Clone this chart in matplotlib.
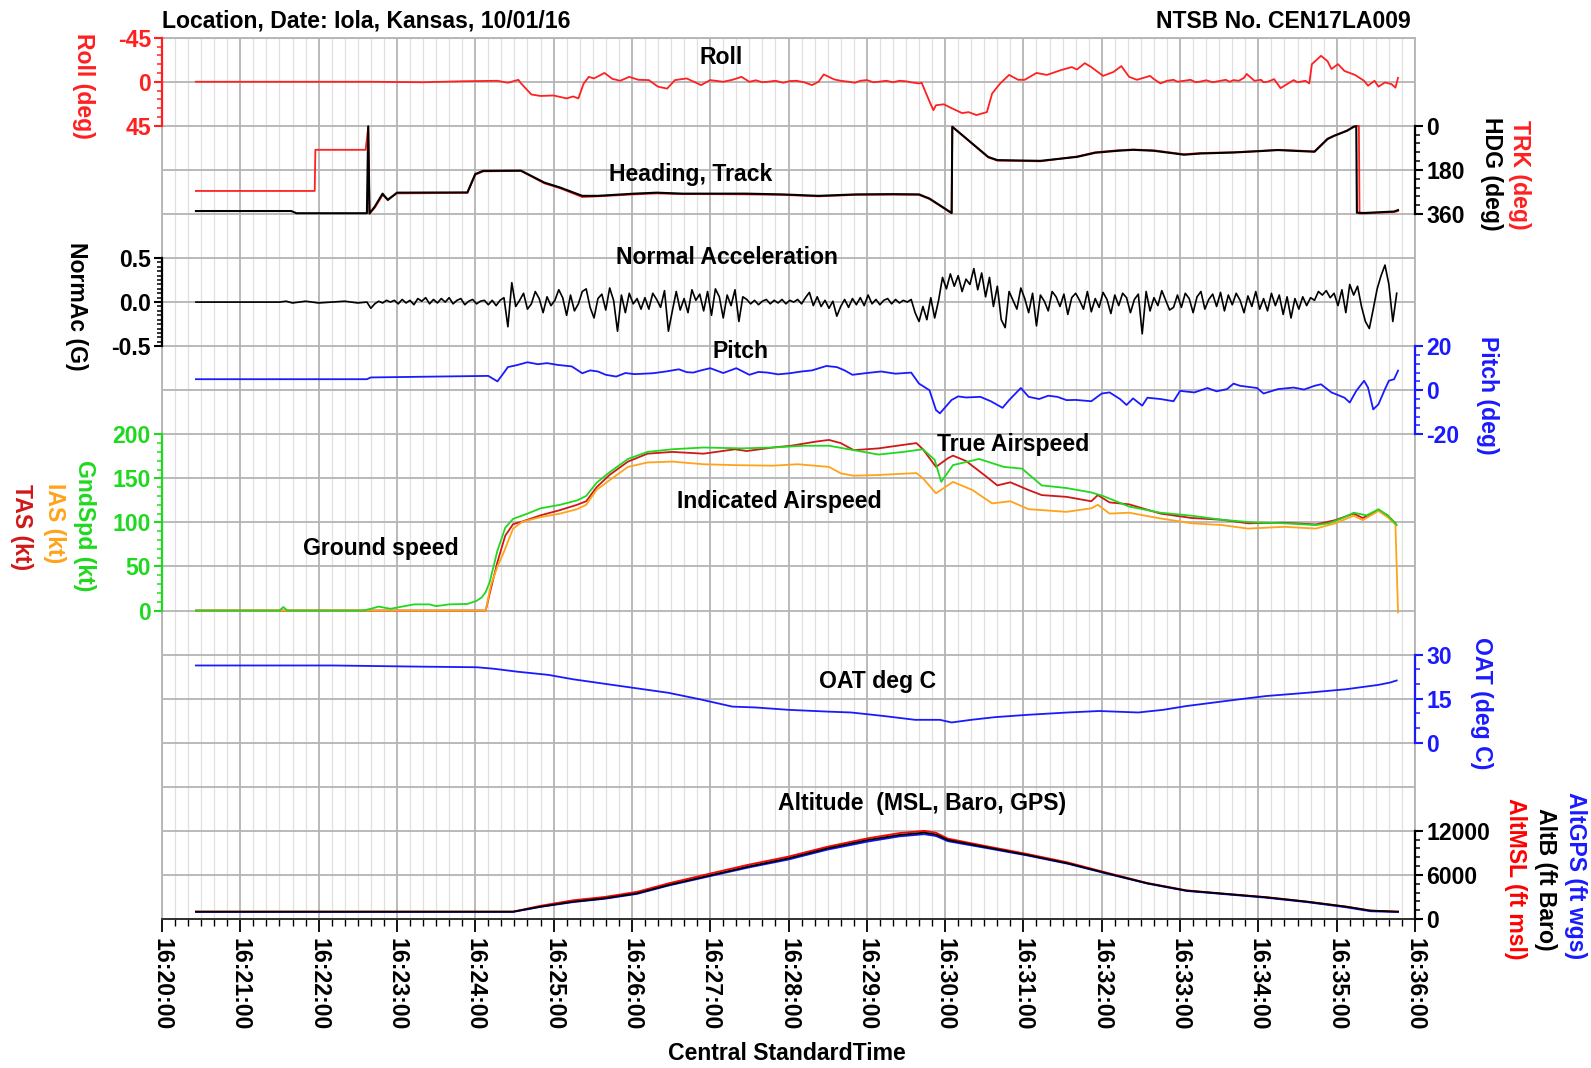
import numpy as np
import matplotlib.pyplot as plt
from matplotlib.ticker import MultipleLocator, FuncFormatter

plt.rcParams['font.family'] = ['Liberation Sans', 'DejaVu Sans']
plt.rcParams['font.weight'] = 'bold'
plt.rcParams['axes.unicode_minus'] = False

# all times are seconds after 16:20:00 CST

# Roll (deg)  (time, value)
roll = [(26, 0), (160, 0), (200, 0.5), (230, -0.5), (257, -1), (265, 1), (273, -2), (275, 1.5), (283, 13),
        (290, 14.5), (300, 14), (305, 15.5), (310, 17), (315, 15), (319, 17), (323, 2), (327, -5), (331, -3.4),
        (339, -9), (345, -3), (351, -1), (358, -5), (365, -2), (373, -1.7), (380, 5), (387, 7), (393, -1.7),
        (402, -3.4), (413, 3.4), (420, -1.7), (430, 0), (437, -2), (444, -5), (450, 0), (455, -1.5), (460, 0.5),
        (464, 0), (470, -1), (476, 1), (481, -0.7), (486, -1), (492, 0.5), (498, 3.4), (503, 0), (507, -7.5),
        (515, -2.4), (520, -1), (526, 0), (531, 1), (535, -1), (540, -1.7), (545, 0.5), (549, 0), (555, -1),
        (560, 0.5), (565, -1), (570, -0.5), (575, 0.8), (580, 1.7), (582, 1), (588, 20), (591, 29), (593, 24),
        (599, 23), (605, 27), (613, 32), (618, 31), (624, 34), (632, 31), (636, 12), (642, 2), (649, -7),
        (656, -2), (661, -2), (670, -9), (678, -7), (689, -12), (697, -15), (701, -12.5), (707, -19), (712, -15),
        (721, -6), (729, -10), (735, -16), (741, -5), (747, -2), (757, -6), (760, -2.7), (765, 1.7), (770, -1),
        (775, -2), (778, 0), (783, -1), (788, -2), (792, 0.5), (796, -0.3), (800, -1.5), (805, 0.5), (811, -1),
        (815, -2), (818, 0), (821, -1.7), (825, -1), (829, -4), (831, -8), (837, -1), (842, -2), (844, 0.5),
        (847, 0), (850, -1.5), (852, -2.7), (857, 6.5), (862, 2.4), (867, -1.7), (870, 0.5), (873, -0.3),
        (876, -1), (879, 1.7), (881, -18), (888, -26.5), (893, -21), (896, -13), (901, -18), (906, -11),
        (914, -7), (921, -1), (924, 4), (929, -1), (932, 5), (937, 0.7), (942, 2.4), (945, 6), (947, -4)]

# Heading (black) and Track (red), deg
hdg = [(26, 348), (99, 348), (103, 357), (157, 357), (158, 2), (159, 358), (163, 330), (169, 277), (173, 303),
       (180, 273), (234, 272), (240, 197), (246, 184), (275, 183), (293, 232), (305, 252), (314, 270), (322, 286),
       (334, 286), (362, 277), (379, 273), (399, 277), (419, 277), (447, 277), (475, 280), (503, 286), (532, 280),
       (560, 279), (580, 280), (588, 297), (605, 356), (605.5, 4), (633, 127), (640, 140), (673, 143), (701, 127),
       (715, 110), (732, 102), (744, 98), (760, 102), (783, 118), (796, 113), (821, 109), (839, 104), (855, 99),
       (883, 106), (893, 54), (898, 41), (908, 20), (913, 4), (915, 1), (915.5, 355), (921, 356), (944, 350),
       (947, 344)]
trk = [(26, 266), (117, 266), (117.5, 98), (156, 98), (158, 5), (159, 358), (163, 335), (169, 283), (173, 300),
       (180, 276), (234, 274), (240, 200), (246, 186), (275, 184), (293, 235), (305, 255), (314, 274), (322, 291),
       (334, 288), (362, 280), (379, 276), (399, 279), (419, 279), (447, 280), (475, 282), (503, 288), (532, 282),
       (560, 281), (580, 282), (588, 299), (605, 357), (605.5, 3), (633, 129), (640, 142), (673, 145), (701, 125),
       (715, 108), (732, 100), (744, 97), (760, 100), (783, 116), (796, 111), (821, 108), (839, 103), (855, 98),
       (883, 104), (893, 52), (898, 40), (908, 19), (913, 3), (917, 0), (917.5, 358), (921, 358), (944, 352),
       (947, 348)]

# Normal acceleration (G): quiet ground roll, then one sample every 3 s from 160 s
normac_ground = [(26, 0), (90, 0), (95, 0.01), (100, -0.01), (110, 0.01), (120, -0.01), (130, 0.0),
                 (140, 0.01), (150, -0.01), (157, 0.0)]
normac_start, normac_dt = 160, 3
normac = [
    -0.07, -0.02, 0.01, -0.01, 0.02, 0.0, 0.02, -0.02, 0.03, -0.01, 0.02, -0.03, 0.04, 0.01, 0.05, -0.02,
    0.03, -0.01, 0.04, 0.0, 0.05, -0.02, 0.02, 0.04, -0.03, 0.01, 0.03, -0.02, 0.01, 0.02, -0.03, 0.02, -0.04,
    0.02,
    0.05, -0.28, 0.22, -0.05, 0.02, 0.10, -0.08, -0.02, 0.12, 0.04, -0.12, 0.06, -0.04, 0.02, 0.14, 0.05,
    -0.15, 0.08, -0.10, -0.02, 0.12, 0.15, -0.06, -0.18, 0.04, 0.09, -0.09, 0.16, 0.02, -0.33, 0.08, -0.12,
    0.10, -0.02, 0.04, -0.08, 0.05, -0.08, 0.10, 0.03, -0.06, 0.13, -0.33, -0.10, 0.12, -0.09, 0.04, -0.12,
    0.14, 0.02, 0.09, -0.10, 0.12, -0.15, 0.15, 0.06, -0.18, 0.08, -0.04, 0.14, -0.22, 0.06,
    0.03, -0.02, 0.02, -0.03, 0.01, 0.03, -0.02, 0.02, -0.01, 0.03, -0.02, 0.02, 0.0, 0.03, -0.02, 0.05, 0.11,
    -0.04, 0.06, -0.05, 0.02, -0.07, 0.01, -0.16, -0.05, 0.03, -0.06, 0.04, -0.03, 0.05, -0.04, 0.08, -0.02,
    0.03, -0.03, 0.02, 0.04, -0.02, 0.03, -0.01, 0.02, 0.0, 0.03,
    -0.12, -0.22, -0.05, -0.20, 0.05, -0.18, 0.02,
    0.28, 0.15, 0.32, 0.18, 0.30, 0.12, 0.26, 0.20, 0.38, 0.14, 0.33, 0.06, 0.28,
    -0.05, 0.18, -0.20, -0.29, 0.12, 0.02, -0.08, 0.16, 0.04, -0.12,
    0.10, -0.27, 0.08, 0.01, -0.10, 0.12, 0.06, -0.05, 0.09, -0.14,
    0.05, 0.10, 0.02, -0.08, 0.12, -0.11, 0.04, -0.06, 0.11, 0.03,
    -0.13, 0.08, -0.04, 0.10, 0.05, -0.12, 0.03, 0.09, -0.36, 0.12,
    -0.10, 0.05, -0.04, 0.13, 0.02, -0.09, -0.06, 0.08, -0.06, 0.10,
    0.04, -0.12, 0.06, 0.12, -0.08, 0.03, 0.09, -0.05, 0.11, -0.10,
    0.08, -0.03, 0.10, 0.02, -0.12, 0.07, -0.05, 0.12, -0.08, 0.04,
    -0.10, 0.10, -0.04, 0.08, -0.14, 0.06, -0.18, 0.04, -0.08, 0.06,
    -0.04, 0.05, 0.02,
    0.12, 0.08, 0.13, 0.05, 0.10, -0.04, 0.14, -0.12, 0.20, 0.08, 0.18, -0.05, -0.22, -0.30, -0.08, 0.15,
    0.30, 0.42, 0.20, -0.22, 0.10]

# Pitch (deg)
pitch = [(26, 5), (157, 5), (160, 5.8), (210, 6.2), (250, 6.5), (257, 4), (262, 8), (265, 10.5), (272, 11.4),
         (280, 12.7), (288, 11.8), (295, 12.3), (303, 11.5), (314, 10.8), (322, 7.7), (328, 9), (334, 8.5),
         (340, 7), (348, 6.2), (355, 7.8), (362, 7.3), (376, 7.7), (386, 8.5), (396, 9.5), (402, 8.2), (407, 8),
         (413, 9), (420, 10), (430, 7.8), (440, 10), (450, 7), (457, 8.3), (464, 8), (472, 7.2), (481, 7.7),
         (490, 8.5), (498, 9), (509, 11), (517, 10.5), (523, 9), (529, 7), (540, 7.8), (551, 8.5), (562, 7.5),
         (574, 8), (580, 3), (588, 0), (593, -9), (596, -10.5), (605, -4.4), (610, -2.8), (616, -3.3),
         (627, -3), (635, -5), (644, -8), (649, -4.5), (658, 1), (664, -3), (672, -4), (679, -2.5), (686, -3),
         (693, -4.5), (700, -4.4), (712, -5), (720, -1.5), (726, -1), (734, -4), (739, -6.7), (744, -3.7),
         (751, -7), (755, -3.4), (765, -4), (775, -5), (780, -0.3), (791, -1), (801, 1), (808, -0.5),
         (816, 0.5), (821, 3), (826, 2), (839, 1), (844, -1.5), (855, 0.5), (867, 1.2), (875, 0.3), (883, 2),
         (888, 2.7), (896, -1), (906, -3.4), (910, -5.6), (915, -0.3), (921, 4.3), (924, 1.2), (928, -8.7),
         (932, -6.4), (937, 0.5), (940, 4.3), (944, 5), (947, 8.9)]

# Speeds (kt)
gndspd = [(26, 0), (90, 0), (93, 4), (96, 0), (154, 0), (160, 2), (166, 4.5), (175, 2), (184, 4.5), (193, 7),
          (205, 7), (210, 5), (220, 7), (234, 7.5), (241, 11), (245, 15), (248, 21), (251, 32), (257, 68),
          (263, 94), (269, 104), (280, 110), (290, 116), (305, 120), (318, 125), (325, 130), (333, 145),
          (343, 157), (357, 172), (372, 180), (391, 183), (415, 185), (444, 184), (468, 185), (492, 187),
          (511, 187), (530, 182), (549, 177), (568, 180), (583, 183), (592, 171), (597, 146), (606, 165),
          (626, 172), (645, 163), (659, 161), (674, 142), (693, 139), (712, 134), (721, 130), (741, 118),
          (765, 111), (789, 107.6), (812, 103), (836, 100), (860, 99), (884, 97), (894, 99), (903, 104),
          (913, 111), (923, 108), (932, 115), (939, 108), (946, 97)]
tas = [(26, 0), (248, 0), (252, 25), (257, 55), (263, 85), (269, 98), (276, 101), (290, 108), (305, 114),
       (318, 120), (325, 124), (333, 140), (343, 154), (357, 169), (372, 178), (391, 180), (415, 178),
       (439, 183), (448, 181), (468, 185), (482, 187), (501, 191.7), (511, 193.6), (520, 190), (530, 182),
       (549, 184), (568, 188), (578, 190), (583, 183), (593, 163), (602, 172.7), (606, 175.8), (616, 169.7),
       (630, 153.8), (640, 142), (650, 145.5), (664, 136.7), (674, 131), (693, 129), (712, 124), (717, 131),
       (726, 122.7), (741, 120.5), (765, 110), (789, 105), (812, 103), (832, 99), (860, 99.6), (884, 97.7),
       (899, 102.6), (913, 110), (920, 105), (932, 114), (939, 108), (945, 99)]
ias = [(26, 0), (248, 0), (252, 28.8), (257, 50), (262, 66.7), (269, 93), (276, 100.7), (290, 106), (305, 110),
       (318, 115), (325, 120), (333, 137), (343, 148), (357, 163), (372, 168), (391, 169), (415, 166),
       (439, 165), (468, 164.4), (487, 166), (511, 163), (520, 155.7), (530, 153), (549, 153.8), (578, 156),
       (583, 150), (593, 133), (602, 142), (606, 146), (621, 136.7), (636, 121.6), (650, 124), (664, 115),
       (693, 112), (712, 116), (717, 120), (726, 110), (741, 111), (765, 104.5), (789, 99), (812, 97),
       (832, 93), (860, 95), (884, 93), (899, 99), (913, 107.6), (920, 102.6), (932, 113), (939, 106),
       (945, 97.7), (947, -2)]

# Outside air temperature (deg C)
oat = [(26, 26.3), (131, 26.3), (199, 25.9), (241, 25.7), (254, 25.2), (272, 24.2), (296, 23.1), (315, 21.6),
       (345, 19.7), (388, 17), (412, 14.8), (437, 12.3), (455, 12), (480, 11.2), (510, 10.6), (528, 10.3),
       (553, 9.1), (577, 7.8), (596, 7.8), (605, 6.9), (620, 7.8), (638, 8.7), (663, 9.5), (694, 10.3),
       (718, 10.8), (748, 10.3), (767, 11.2), (785, 12.5), (822, 14.6), (846, 15.9), (877, 17), (907, 18.2),
       (932, 19.7), (941, 20.5), (946, 21.2)]

# Altitude (ft)
alt_t = [26, 269, 290, 315, 339, 364, 388, 419, 449, 480, 510, 541, 565, 584, 593, 602, 632, 663, 694, 724,
         755, 785, 816, 846, 877, 907, 926, 947]
alt_baro = [1000, 1000, 1680, 2360, 2815, 3500, 4630, 5900, 7130, 8260, 9625, 10760, 11440, 11760, 11500,
            10760, 9760, 8720, 7580, 6220, 4860, 3860, 3400, 2950, 2360, 1680, 1135, 1000]
alt_msl = [1000, 1000, 1800, 2550, 3000, 3700, 4850, 6150, 7380, 8500, 9850, 11000, 11700, 12000, 11750,
           10950, 9900, 8850, 7700, 6300, 4900, 3900, 3420, 2980, 2380, 1700, 1150, 1000]
alt_gps = [960, 960, 1650, 2300, 2750, 3420, 4550, 5800, 7000, 8100, 9450, 10550, 11250, 11550, 11300, 10600,
           9650, 8650, 7520, 6180, 4820, 3820, 3350, 2900, 2300, 1600, 1050, 950]

RED = '#ff2020'
BLUE = '#1a1aff'
GREEN = '#20d820'
ORANGE = '#ffa31a'
DKRED = '#d01818'
FS = 16.6

FW, FH = 1591, 1068
X0, X1 = 162, 1415
Y0, Y1 = 37.7, 919
rowh = (Y1 - Y0) / 20


def fy(Y):
    return 1 - Y / FH


fig = plt.figure(figsize=(FW / 100, FH / 100), dpi=100)

# background grid, one row per horizontal line
bg = fig.add_axes([X0 / FW, fy(Y1), (X1 - X0) / FW, (Y1 - Y0) / FH])
bg.set_xlim(0, 960)
bg.set_ylim(20, 0)
bg.set_yticks(range(21))
bg.tick_params(axis='y', left=False, labelleft=False)
bg.xaxis.set_major_locator(MultipleLocator(60))
bg.xaxis.set_minor_locator(MultipleLocator(10))
bg.xaxis.set_major_formatter(FuncFormatter(lambda v, p: "16:%02d:%02d" % (20 + int(v) // 60, int(v) % 60)))
bg.grid(which='major', color='#b4b4b4', lw=1.3)
bg.grid(which='minor', axis='x', color='#e0e0e0', lw=0.9)
bg.tick_params(axis='x', which='major', length=9, width=1.3, labelrotation=270, labelsize=FS, pad=5)
bg.tick_params(axis='x', which='minor', length=5, width=1.0)
for side in ['top', 'left', 'right']:
    bg.spines[side].set_color('#b4b4b4')
    bg.spines[side].set_linewidth(1.3)
bg.spines['bottom'].set_color('#303030')
bg.spines['bottom'].set_linewidth(1.4)


def panel(r0, r1, lim, side, color, major, minor):
    ax = fig.add_axes([X0 / FW, fy(Y0 + r1 * rowh), (X1 - X0) / FW, (r1 - r0) * rowh / FH])
    ax.patch.set_visible(False)
    ax.set_xlim(0, 960)
    ax.set_ylim(*lim)
    ax.set_xticks([])
    for sp in ax.spines.values():
        sp.set_visible(False)
    ax.spines[side].set_visible(True)
    ax.spines[side].set_color(color)
    ax.spines[side].set_linewidth(1.6)
    ax.yaxis.set_ticks_position(side)
    ax.yaxis.set_major_locator(MultipleLocator(major))
    ax.yaxis.set_minor_locator(MultipleLocator(minor))
    ax.tick_params(axis='y', which='major', colors=color, length=6, width=1.5, labelsize=FS, pad=2)
    ax.tick_params(axis='y', which='minor', colors=color, length=3.5, width=1.1)
    return ax


def draw(ax, data, color, lw=1.3):
    t, v = zip(*data)
    ax.plot(t, v, color=color, lw=lw, clip_on=False)


ax_roll = panel(0, 2, (45, -45), 'left', RED, 45, 9)
draw(ax_roll, roll, RED)

ax_hdg = panel(2, 4, (360, 0), 'right', 'black', 180, 36)
draw(ax_hdg, trk, RED)
draw(ax_hdg, hdg, 'black', 1.5)

ax_nz = panel(5, 7, (-0.5, 0.5), 'left', 'black', 0.5, 0.05)
ax_nz.yaxis.set_major_formatter(FuncFormatter(lambda v, p: "%.1f" % v))
nz_t = [p[0] for p in normac_ground] + [normac_start + normac_dt * i for i in range(len(normac))]
nz_v = [p[1] for p in normac_ground] + normac
ax_nz.plot(nz_t, nz_v, color='black', lw=1.2, clip_on=False)

ax_pitch = panel(7, 9, (-20, 20), 'right', BLUE, 20, 4)
draw(ax_pitch, pitch, BLUE)

ax_spd = panel(9, 13, (0, 200), 'left', GREEN, 50, 10)
draw(ax_spd, tas, DKRED)
draw(ax_spd, ias, ORANGE)
draw(ax_spd, gndspd, GREEN)

ax_oat = panel(14, 16, (0, 30), 'right', BLUE, 15, 5)
draw(ax_oat, oat, BLUE)

ax_alt = panel(18, 20, (0, 12000), 'right', 'black', 6000, 1200)
ax_alt.plot(alt_t, alt_msl, color='#ff0000', lw=1.3, clip_on=False)
ax_alt.plot(alt_t, alt_gps, color='#1010ff', lw=1.3, clip_on=False)
ax_alt.plot(alt_t, alt_baro, color='black', lw=1.3, clip_on=False)

# panel titles (time, grid row)
titles = [("Roll", 428, 0.46), ("Heading, Track", 405, 3.1), ("Normal Acceleration", 433, 4.99),
          ("Pitch", 443, 7.11), ("True Airspeed", 652, 9.23), ("Indicated Airspeed", 473, 10.52),
          ("Ground speed", 168, 11.6), ("OAT deg C", 548, 14.6), ("Altitude  (MSL, Baro, GPS)", 582, 17.38)]
for txt, tx, ty in titles:
    bg.text(tx, ty, txt, ha='center', va='center', fontsize=FS, fontweight='bold', zorder=5)

# axis names (x px, y px, text, colour)
ylabels = [(83, 86, "Roll (deg)", RED), (76, 306, "NormAc (G)", 'black'),
           (84, 526, "GndSpd (kt)", GREEN), (54, 523, "IAS (kt)", ORANGE), (21, 527, "TAS (kt)", DKRED),
           (1492, 174, "HDG (deg)", 'black'), (1520, 175, "TRK (deg)", RED),
           (1487, 395, "Pitch (deg)", BLUE), (1481, 703, "OAT (deg C)", BLUE),
           (1515, 879, "AltMSL (ft msl)", '#ff0000'), (1545, 879, "AltB (ft Baro)", 'black'),
           (1576, 876, "AltGPS (ft wgs)", BLUE)]
for px, py, txt, c in ylabels:
    fig.text(px / FW, fy(py), txt, rotation=270, ha='center', va='center', color=c,
             fontsize=FS, fontweight='bold')

fig.text(X0 / FW, fy(21), "Location, Date: Iola, Kansas, 10/01/16", ha='left', va='center',
         fontsize=FS, fontweight='bold')
fig.text(1411 / FW, fy(21), "NTSB No. CEN17LA009", ha='right', va='center', fontsize=FS, fontweight='bold')
fig.text(787 / FW, fy(1060), "Central StandardTime", ha='center', va='baseline', fontsize=FS,
         fontweight='bold')

fig.savefig("out.png", dpi=100)
